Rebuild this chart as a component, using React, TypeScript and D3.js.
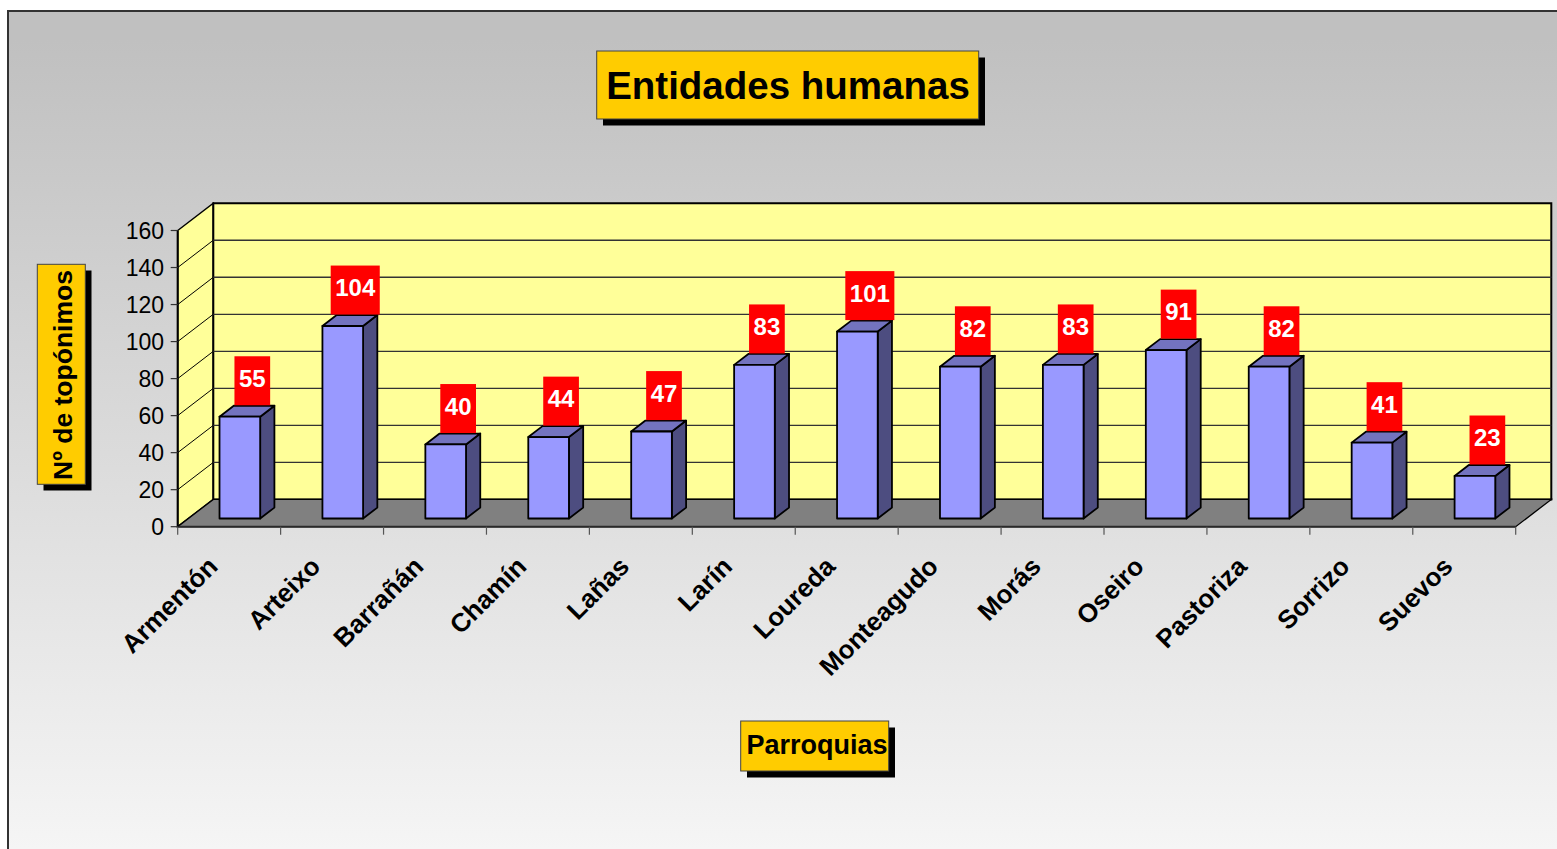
import React from 'react';
import * as d3 from 'd3';

const categories = ['Armentón', 'Arteixo', 'Barrañán', 'Chamín', 'Lañas', 'Larín', 'Loureda', 'Monteagudo', 'Morás', 'Oseiro', 'Pastoriza', 'Sorrizo', 'Suevos'];
const values = [55, 104, 40, 44, 47, 83, 101, 82, 83, 91, 82, 41, 23];
const yTicks = [0, 20, 40, 60, 80, 100, 120, 140, 160];
const titleText = 'Entidades humanas';
const yTitle = 'Nº de topónimos';
const xTitle = 'Parroquias';

const W = 1557;
const H = 849;
const FONT = '"Liberation Sans", Arial, Helvetica, sans-serif';
const X0 = 177.7;
const X1 = 1515.7;
const Y0 = 526.7;
const YT = 230.5;
const DX = 35.6;
const DY = -27.3;
const F0 = 0.3;
const F1 = 0.7;

const pts = (a: number[][]) => a.map((p) => p.join(',')).join(' ');

export default function App() {
  const x = d3.scaleBand<string>().domain(categories).range([X0, X1]).padding(0);
  const y = d3.scaleLinear().domain([0, 160]).range([Y0, YT]);
  const bw = x.bandwidth();
  const barW = bw * 0.395;
  const ddx = (F1 - F0) * DX;
  const ddy = (F1 - F0) * DY;

  return (
    <svg width={W} height={H} style={{ position: 'absolute', left: 0, top: 0, display: 'block' }} fontFamily={FONT}>
      <defs>
        <linearGradient id="bg" gradientUnits="userSpaceOnUse" x1="0" y1="40" x2="0" y2="880">
          <stop offset="0" stopColor="#c0c0c0" />
          <stop offset="1" stopColor="#f7f7f7" />
        </linearGradient>
      </defs>
      <rect x={0} y={0} width={W} height={H} fill="#ffffff" />
      <rect x={8} y={11} width={1600} height={900} fill="url(#bg)" stroke="#333" strokeWidth={2} />

      {/* title */}
      <rect x={603} y={57.5} width={382} height={68} fill="#000" />
      <rect x={596.7} y={51} width={382} height={68} fill="#ffcc00" stroke="#444" strokeWidth={1} />
      <text x={788} y={99} textAnchor="middle" fontSize={38.5} fontWeight="bold" fill="#000">{titleText}</text>

      {/* side wall */}
      <polygon points={pts([[X0, Y0], [X0, YT], [X0 + DX, YT + DY], [X0 + DX, Y0 + DY]])} fill="#ffff99" stroke="#000" strokeWidth={1.5} />
      {/* back wall */}
      <polygon points={pts([[X0 + DX, YT + DY], [X1 + DX, YT + DY], [X1 + DX, Y0 + DY], [X0 + DX, Y0 + DY]])} fill="#ffff99" stroke="#000" strokeWidth={2} />
      {yTicks.filter((v) => v > 0 && v < 160).map((v) => (
        <g key={'g' + v}>
          <line x1={X0} y1={y(v)} x2={X0 + DX} y2={y(v) + DY} stroke="#000" strokeWidth={1} />
          <line x1={X0 + DX} y1={y(v) + DY} x2={X1 + DX} y2={y(v) + DY} stroke="#333" strokeWidth={1.3} />
        </g>
      ))}
      {/* floor */}
      <polygon points={pts([[X0, Y0], [X1, Y0], [X1 + DX, Y0 + DY], [X0 + DX, Y0 + DY]])} fill="#808080" stroke="#000" strokeWidth={1.3} />
      <line x1={X0} y1={Y0} x2={X1} y2={Y0} stroke="#2a2a2a" strokeWidth={2} />
      <line x1={X0} y1={YT} x2={X0} y2={Y0} stroke="#000" strokeWidth={2} />

      {/* y axis ticks */}
      {yTicks.map((v) => (
        <g key={'t' + v}>
          <line x1={X0 - 7} y1={y(v)} x2={X0} y2={y(v)} stroke="#333" strokeWidth={1.2} />
          <text x={164} y={y(v) + 8.3} textAnchor="end" fontSize={23} fill="#000">{v}</text>
        </g>
      ))}
      {/* x axis ticks */}
      {categories.map((c, i) => (
        <line key={'xt' + i} x1={(x(c) as number)} y1={Y0} x2={(x(c) as number)} y2={Y0 + 8} stroke="#555" strokeWidth={1.2} />
      ))}
      <line x1={X1} y1={Y0} x2={X1} y2={Y0 + 8} stroke="#555" strokeWidth={1.2} />

      {/* bars */}
      {categories.map((c, i) => {
        const cx = (x(c) as number) + bw / 2;
        const left = cx - barW / 2 + F0 * DX;
        const right = left + barW;
        const bottom = Y0 + F0 * DY;
        const top = y(values[i]) + F0 * DY;
        return (
          <g key={'b' + i} stroke="#000" strokeWidth={1.8} strokeLinejoin="round">
            <polygon points={pts([[right, top], [right + ddx, top + ddy], [right + ddx, bottom + ddy], [right, bottom]])} fill="#4d4d80" />
            <polygon points={pts([[left, top], [right, top], [right + ddx, top + ddy], [left + ddx, top + ddy]])} fill="#7373bf" />
            <rect x={left} y={top} width={barW} height={bottom - top} fill="#9999ff" />
          </g>
        );
      })}

      {/* data labels */}
      {categories.map((c, i) => {
        const cx = (x(c) as number) + bw / 2 + 0.65 * DX;
        const backTop = y(values[i]) + F1 * DY;
        const s = String(values[i]);
        const w = s.length * 13.35 + 9;
        const bottom = backTop - 0.5;
        return (
          <g key={'l' + i}>
            <rect x={cx - w / 2} y={bottom - 49} width={w} height={49} fill="#ff0000" />
            <text x={cx} y={bottom - 18.5} textAnchor="middle" fontSize={24} fontWeight="bold" fill="#ffffff">{s}</text>
          </g>
        );
      })}

      {/* category labels */}
      {categories.map((c, i) => {
        const cx = (x(c) as number) + bw / 2 - 10;
        const cy = 568;
        return (
          <text key={'c' + i} x={cx} y={cy} transform={`rotate(-45 ${cx} ${cy})`} textAnchor="end" fontSize={26} fontWeight="bold" fill="#000">{c}</text>
        );
      })}

      {/* y title */}
      <rect x={43.5} y={270.5} width={48} height={220} fill="#000" />
      <rect x={37.3} y={264.3} width={48} height={220} fill="#ffcc00" stroke="#444" strokeWidth={1} />
      <text x={0} y={0} transform={`translate(71.8 375) rotate(-90)`} textAnchor="middle" fontSize={26.5} fontWeight="bold" fill="#000">{yTitle}</text>

      {/* x title */}
      <rect x={747} y={727.5} width={148} height={50} fill="#000" />
      <rect x={740.7} y={721} width={148} height={50} fill="#ffcc00" stroke="#444" strokeWidth={1} />
      <text x={817} y={753.8} textAnchor="middle" fontSize={27} fontWeight="bold" fill="#000">{xTitle}</text>
    </svg>
  );
}
